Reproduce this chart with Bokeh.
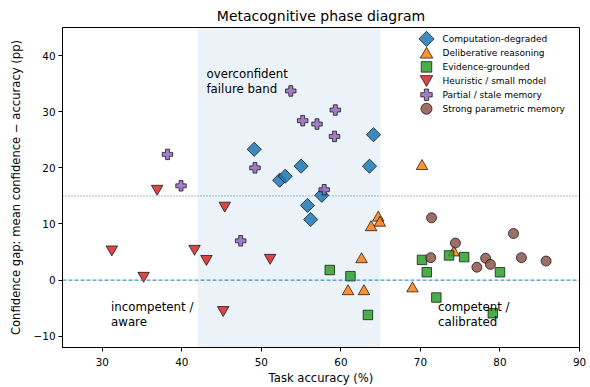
import numpy as np
from bokeh.plotting import figure
from bokeh.models import BoxAnnotation, Span, Label, Range1d, FixedTicker
from bokeh.embed import file_html
from bokeh.resources import INLINE

# ---- data ----
groups = ["Computation-degraded", "Deliberative reasoning", "Evidence-grounded",
          "Heuristic / small model", "Partial / stale memory", "Strong parametric memory"]

comp_x = [49.1, 55.0, 64.1, 63.6, 52.3, 53.0, 55.8, 56.2, 57.6]
comp_y = [23.3, 20.3, 25.9, 20.3, 17.8, 18.5, 13.3, 10.8, 15.1]
delib_x = [70.2, 64.7, 64.9, 63.8, 62.6, 60.9, 62.9, 69.0, 74.2]
delib_y = [20.3, 11.1, 10.2, 9.4, 3.7, -2.0, -2.0, -1.5, 4.9]
evid_x = [58.6, 61.2, 63.4, 70.2, 70.8, 72.0, 73.6, 75.5, 79.1, 80.0]
evid_y = [1.8, 0.7, -6.2, 3.6, 1.4, -3.1, 4.4, 4.1, -5.9, 1.4]
heur_x = [36.9, 31.2, 35.2, 45.4, 41.6, 43.1, 51.1, 45.2]
heur_y = [16.3, 5.5, 0.8, 13.3, 5.6, 3.8, 4.0, -5.3]
part_x = [38.2, 39.9, 49.2, 53.7, 55.2, 57.0, 57.9, 59.3, 59.2, 47.4]
part_y = [22.4, 16.8, 20.0, 33.7, 28.4, 27.8, 16.1, 30.3, 25.6, 7.0]
strong_x = [71.4, 71.3, 74.4, 77.1, 78.2, 78.8, 81.7, 82.7, 85.8]
strong_y = [11.1, 4.0, 6.6, 2.3, 3.9, 2.8, 8.3, 4.0, 3.4]

x_ticks = [30, 40, 50, 60, 70, 80, 90]
y_ticks = [-10, 0, 10, 20, 30, 40]

band = (42, 65)
overconf_line = 15

FONT = "DejaVu Sans"
W, H = 590, 387
BL, BR, BT, BB = 62, 11, 27, 39
FW, FH = W - BL - BR, H - BT - BB

p = figure(width=W, height=H, output_backend="svg", toolbar_location=None,
           x_range=Range1d(25, 90), y_range=Range1d(-12, 45),
           min_border_left=BL, min_border_right=BR, min_border_top=BT, min_border_bottom=BB,
           title="Metacognitive phase diagram")

p.title.text_font = FONT
p.title.text_font_size = "14px"
p.title.text_font_style = "normal"
p.title.align = "center"
p.title.text_color = "black"
p.title.standoff = 7

p.xgrid.visible = False
p.ygrid.visible = False
p.outline_line_color = "black"
p.outline_line_width = 1
p.outline_line_alpha = 1

for ax in (p.xaxis[0], p.yaxis[0]):
    ax.axis_line_color = "black"
    ax.major_tick_line_color = "black"
    ax.minor_tick_line_color = None
    ax.major_tick_out = 4
    ax.major_tick_in = 0
    ax.major_label_text_font = FONT
    ax.major_label_text_font_size = "10.4px"
    ax.major_label_text_color = "black"
    ax.axis_label_text_font = FONT
    ax.axis_label_text_font_size = "11.6px"
    ax.axis_label_text_font_style = "normal"
    ax.axis_label_text_color = "black"

p.xaxis.ticker = FixedTicker(ticks=x_ticks)
p.yaxis.ticker = FixedTicker(ticks=y_ticks)
p.yaxis.major_label_overrides = {t: str(t).replace("-", "\u2212") for t in y_ticks}
p.xaxis.axis_label = "Task accuracy (%)"
p.yaxis.axis_label = "Confidence gap: mean confidence \u2212 accuracy (pp)"
p.xaxis.major_label_standoff = 6
p.xaxis.axis_label_standoff = 2
p.yaxis.major_label_standoff = 3
p.yaxis.axis_label_standoff = 8

p.add_layout(BoxAnnotation(left=band[0], right=band[1], fill_color="#1f77b4",
                           fill_alpha=0.09, line_color=None, level="underlay"))
p.add_layout(Span(location=overconf_line, dimension="width", line_color="#1f77b4",
                  line_alpha=0.9, line_width=1, line_dash="1 2"))
p.add_layout(Span(location=0, dimension="width", line_color="#1f77b4",
                  line_width=1, line_dash="4 2"))

common = dict(fill_alpha=0.85, line_color="black", line_width=0.8, line_alpha=0.85)
styles = [
    dict(marker="square", angle=np.pi / 4, size=10, fill_color="#1f77b4"),
    dict(marker="triangle", size=11.5, fill_color="#ff7f0e"),
    dict(marker="square", size=9.5, fill_color="#2ca02c"),
    dict(marker="inverted_triangle", size=11.5, fill_color="#d62728"),
    dict(marker="plus", size=10.5, fill_color="#9467bd"),
    dict(marker="circle", size=10, fill_color="#8c564b"),
]
series = [(comp_x, comp_y), (delib_x, delib_y), (evid_x, evid_y),
          (heur_x, heur_y), (part_x, part_y), (strong_x, strong_y)]
for (xs, ys), st in zip(series, styles):
    p.scatter(xs, ys, **st, **common)

lab = dict(text_font=FONT, text_font_size="11.8px", text_color="black",
           text_baseline="top", text_line_height=1.1)
p.add_layout(Label(x=43.1, y=38.0, text="overconfident\nfailure band", **lab))
p.add_layout(Label(x=31.1, y=-3.5, text="incompetent /\naware", **lab))
p.add_layout(Label(x=72.2, y=-3.5, text="competent /\ncalibrated", **lab))

# ---- legend (pixel layout inside the frame, measured from top-left) ----
p.extra_x_ranges = {"lgx": Range1d(0, FW)}
p.extra_y_ranges = {"lgy": Range1d(FH, 0)}
LG_X, LG_TXT_X, LG_Y0, LG_DY = 364, 380, 11.5, 14
leg_sizes = [10.8, 12.5, 10.5, 12.5, 11.5, 11]
leg_dy = [0, -1.6, 0, 1.6, 0, 0]   # centre the triangles' boxes on the row
for i, (g, st) in enumerate(zip(groups, styles)):
    yy = LG_Y0 + LG_DY * i
    s = dict(st)
    s["size"] = leg_sizes[i]
    p.scatter([LG_X], [yy - leg_dy[i]], x_range_name="lgx", y_range_name="lgy", **s, **common)
    p.add_layout(Label(x=LG_TXT_X, y=yy, x_range_name="lgx", y_range_name="lgy",
                       text=g, text_font=FONT, text_font_size="9px",
                       text_color="black", text_baseline="middle"))

open("out.html", "w").write(file_html(p, INLINE))
